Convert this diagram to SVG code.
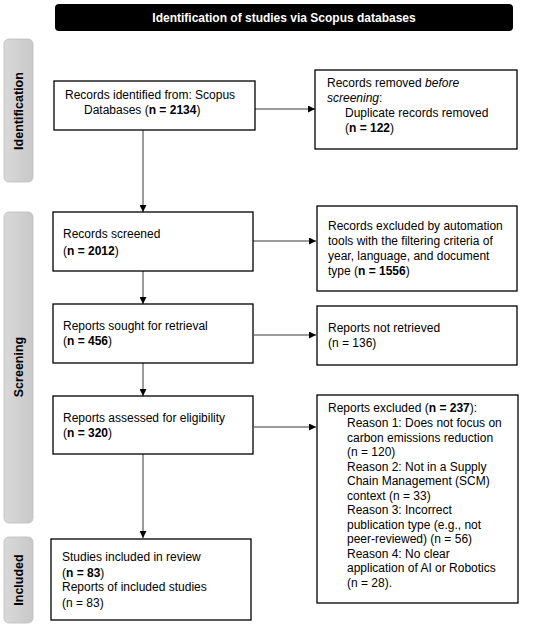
<svg xmlns="http://www.w3.org/2000/svg" width="550" height="627" viewBox="0 0 550 627">
<defs>
<marker id="arr" viewBox="0 0 10 10" refX="10" refY="5" markerWidth="8" markerHeight="7" markerUnits="userSpaceOnUse" orient="auto">
<path d="M0,0 L10,5 L0,10 z" fill="#000"/>
</marker>
<linearGradient id="side" x1="0" y1="0" x2="1" y2="0">
<stop offset="0" stop-color="#d9d9d9"/>
<stop offset="1" stop-color="#c8c8c8"/>
</linearGradient>
</defs>
<style>
text{font-family:"Liberation Sans",Arial,sans-serif;font-size:12px;fill:#000}
.b{font-weight:bold}
.hdr{font-weight:bold;fill:#fff;text-anchor:middle}
.lab{font-weight:bold;font-size:12.5px;text-anchor:middle}
.box{fill:#fff;stroke:#000;stroke-width:1.3}
.side{fill:url(#side);stroke:#bdbdbd;stroke-width:0.8}
.con{fill:none;stroke:#222;stroke-width:0.9;marker-end:url(#arr)}
</style>
<rect width="550" height="627" fill="#fff"/>
<g id="header">
<rect x="55" y="4" width="458" height="27" rx="4" fill="#000"/>
<text class="hdr" x="284" y="22">Identification of studies via Scopus databases</text>
</g>
<g id="phase-identification">
<rect class="side" x="4" y="39" width="29" height="143" rx="5"/>
<text class="lab" transform="translate(23,111) rotate(-90)">Identification</text>
</g>
<g id="phase-screening">
<rect class="side" x="4" y="212" width="29" height="311" rx="5"/>
<text class="lab" transform="translate(23,367) rotate(-90)">Screening</text>
</g>
<g id="phase-included">
<rect class="side" x="4" y="537" width="29" height="86" rx="5"/>
<text class="lab" transform="translate(23,580) rotate(-90)">Included</text>
</g>
<g id="connectors">
<path class="con" d="M255,109 H315"/>
<path class="con" d="M143,130 V212"/>
<path class="con" d="M253,241 H316"/>
<path class="con" d="M143,271 V304"/>
<path class="con" d="M254,335 H316"/>
<path class="con" d="M143,363 V396"/>
<path class="con" d="M254,427 H316"/>
<path class="con" d="M143,454 V538"/>
</g>
<g id="records-identified">
<rect class="box" x="54" y="81" width="201" height="49"/>
<text x="65" y="99">Records identified from: Scopus</text>
<text x="84" y="114">Databases (<tspan class="b">n = 2134</tspan>)</text>
</g>
<g id="records-removed">
<rect class="box" x="315" y="70" width="202" height="79"/>
<text x="327" y="87">Records removed <tspan font-style="italic">before</tspan></text>
<text x="327" y="102"><tspan font-style="italic">screening</tspan>:</text>
<text x="345" y="117">Duplicate records removed</text>
<text x="345" y="132">(<tspan class="b">n = 122</tspan>)</text>
</g>
<g id="records-screened">
<rect class="box" x="53" y="212" width="200" height="59"/>
<text x="63" y="238">Records screened</text>
<text x="63" y="255">(<tspan class="b">n = 2012</tspan>)</text>
</g>
<g id="records-excluded">
<rect class="box" x="317" y="206" width="200" height="85"/>
<text x="328" y="230">Records excluded by automation</text>
<text x="328" y="245">tools with the filtering criteria of</text>
<text x="328" y="260">year, language, and document</text>
<text x="328" y="275">type (<tspan class="b">n = 1556</tspan>)</text>
</g>
<g id="reports-sought">
<rect class="box" x="53" y="304" width="200" height="59"/>
<text x="63" y="330">Reports sought for retrieval</text>
<text x="63" y="345">(<tspan class="b">n = 456</tspan>)</text>
</g>
<g id="reports-not-retrieved">
<rect class="box" x="317" y="306" width="200" height="59"/>
<text x="328" y="332">Reports not retrieved</text>
<text x="328" y="347">(n = 136)</text>
</g>
<g id="reports-assessed">
<rect class="box" x="53" y="396" width="200" height="58"/>
<text x="63" y="422">Reports assessed for eligibility</text>
<text x="63" y="437">(<tspan class="b">n = 320</tspan>)</text>
</g>
<g id="reports-excluded">
<rect class="box" x="317" y="395" width="201" height="208"/>
<text x="328" y="412">Reports excluded (<tspan class="b">n = 237</tspan>):</text>
<text x="347" y="427">Reason 1: Does not focus on</text>
<text x="347" y="441.5">carbon emissions reduction</text>
<text x="347" y="456">(n = 120)</text>
<text x="347" y="470.5">Reason 2: Not in a Supply</text>
<text x="347" y="485">Chain Management (SCM)</text>
<text x="347" y="499.5">context (n = 33)</text>
<text x="347" y="514">Reason 3: Incorrect</text>
<text x="347" y="528.5">publication type (e.g., not</text>
<text x="347" y="543">peer-reviewed) (n = 56)</text>
<text x="347" y="557.5">Reason 4: No clear</text>
<text x="347" y="572">application of AI or Robotics</text>
<text x="347" y="586.5">(n = 28).</text>
</g>
<g id="studies-included">
<rect class="box" x="51" y="539" width="200" height="81"/>
<text x="62" y="561">Studies included in review</text>
<text x="62" y="577">(<tspan class="b">n = 83</tspan>)</text>
<text x="62" y="591">Reports of included studies</text>
<text x="62" y="607">(n = 83)</text>
</g>
</svg>
